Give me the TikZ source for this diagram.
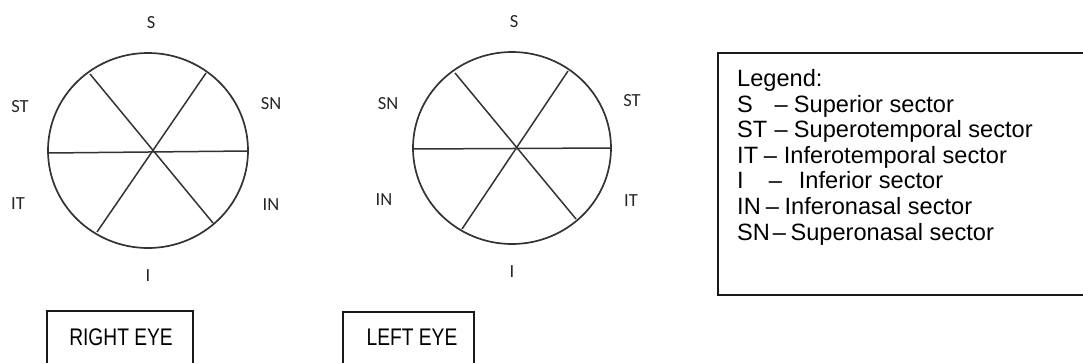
\documentclass[tikz,border=0pt]{standalone}
\usepackage{fontspec}
\setmainfont{Liberation Sans}
\newfontfamily\sectfont{Carlito}
\newfontfamily\capfont[FakeStretch=0.8]{Liberation Sans}
\newcommand{\legrow}[4]{\makebox[#2pt][l]{#1}\makebox[#3pt][l]{–}#4}
\tikzset{
  eye/.style={line width=1.7pt, draw=black!80},
  spoke/.style={line width=1.5pt, draw=black!80},
  sect/.style={font=\sectfont\fontsize{18.5}{18.5}\selectfont, text=black!85, inner sep=0pt},
  capbox/.style={line width=1.8pt, draw=black!90},
  captext/.style={font=\capfont\fontsize{24}{24}\selectfont, inner sep=0pt},
  legtext/.style={font=\fontsize{23.6}{25}\selectfont, anchor=base west, inner sep=0pt},
}
\begin{document}
\begin{tikzpicture}[x=1pt,y=-1pt]
            \useasboundingbox (0,0) rectangle (1083,362);
            \clip (0,0) rectangle (1083,362);
            % right eye
            \draw[eye] (148,150.5) ellipse [x radius=100, y radius=97.5];
            \draw[spoke] (48,153) -- (248,151);
            \draw[spoke] (90,74) -- (213,223);
            \draw[spoke] (206,73) -- (97,232);
            \node[sect] (rS) at (151,23) {S};
            \node[sect] (rST) at (20,107) {ST};
            \node[sect] (rSN) at (271,104) {SN};
            \node[sect] (rIT) at (18,204) {IT};
            \node[sect] (rIN) at (271,205) {IN};
            \node[sect] (rI) at (148,276) {I};
            % left eye
            \draw[eye] (512,148) ellipse [x radius=99, y radius=96];
            \draw[spoke] (413,149) -- (611,148);
            \draw[spoke] (455,73) -- (576,219);
            \draw[spoke] (568,71) -- (462,229);
            \node[sect] (lS) at (514,22) {S};
            \node[sect] (lSN) at (388,104) {SN};
            \node[sect] (lST) at (632,101) {ST};
            \node[sect] (lIN) at (384,200) {IN};
            \node[sect] (lIT) at (631,201) {IT};
            \node[sect] (lI) at (512,272) {I};
            % captions
            \draw[capbox] (47,311) rectangle (193,380);
            \node[captext] (rcap) at (121,337) {RIGHT EYE};
            \draw[capbox] (343,312) rectangle (474,380);
            \node[captext] (lcap) at (412,337) {LEFT EYE};
            % legend
            \draw[capbox] (718,53) rectangle (1100,295);
            \node[legtext] (leghead) at (737,86.5) {Legend:};
            \node[legtext] (legS) at (737,112.1) {\legrow{S}{37.4}{19.3}{Superior sector}};
            \node[legtext] (legST) at (737,137.7) {\legrow{ST}{37.4}{19.3}{Superotemporal sector}};
            \node[legtext] (legIT) at (737,163.3) {\legrow{IT}{26.7}{20}{Inferotemporal sector}};
            \node[legtext] (legI) at (737,188.9) {\legrow{I}{31.7}{30}{Inferior sector}};
            \node[legtext] (legIN) at (737,214.5) {\legrow{IN}{28.7}{18.7}{Inferonasal sector}};
            \node[legtext] (legSN) at (737,240.1) {\legrow{SN}{35.6}{17.8}{Superonasal sector}};
        \end{tikzpicture}
\end{document}
